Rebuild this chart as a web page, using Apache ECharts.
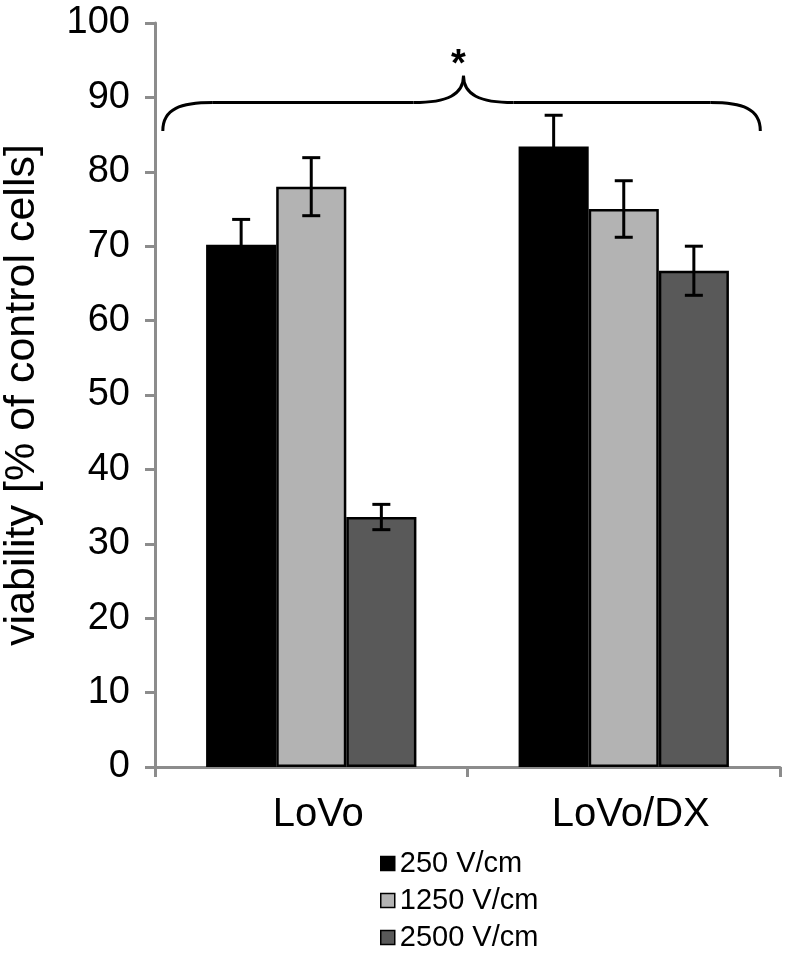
<!DOCTYPE html>
<html>
<head>
<meta charset="utf-8">
<script src="https://cdn.jsdelivr.net/npm/echarts@6/dist/echarts.min.js"></script>
<style>html,body{margin:0;padding:0;background:#fff;}#c{width:786px;height:956px;}</style>
</head>
<body>
<div id="c"></div>
<script>
const categories = ['LoVo', 'LoVo/DX'];
const seriesNames = ['250 V/cm', '1250 V/cm', '2500 V/cm'];
const values250 = [70.2, 83.4];
const values1250 = [78.0, 75.0];
const values2500 = [33.6, 66.7];
const err250 = [3.4, 4.2];
const err1250 = [3.9, 3.8];
const err2500 = [1.7, 3.3];
const yTicks = [0, 10, 20, 30, 40, 50, 60, 70, 80, 90, 100];
const braceLevels = { end: 85.5, mid: 89.3, tip: 92.9 };
const significance = '*';

const colors = ['#000000', '#b3b3b3', '#595959'];
const valuesAll = [values250, values1250, values2500];
const errAll = [err250, err1250, err2500];
const FONT = '"Liberation Sans", Arial, Helvetica, sans-serif';
const GAP = 0.327;

const chart = echarts.init(document.getElementById('c'), null, { renderer: 'canvas' });

const barSeries = seriesNames.map((n, i) => ({
  name: n,
  type: 'bar',
  data: valuesAll[i],
  barGap: '0%',
  barCategoryGap: (GAP * 100) + '%',
  itemStyle: { color: colors[i], borderColor: '#000', borderWidth: 2.5 },
  emphasis: { disabled: true },
  z: 2
}));

const errSeries = seriesNames.map((n, i) => ({
  type: 'custom',
  name: n + ' err',
  data: valuesAll[i].map((v, j) => [j, v - errAll[i][j], v + errAll[i][j]]),
  z: 5,
  silent: true,
  renderItem: function (params, api) {
    const x = api.value(0);
    const lo = api.coord([x, api.value(1)]);
    const hi = api.coord([x, api.value(2)]);
    const band = api.size([1, 0])[0];
    const bw = band * (1 - GAP) / 3;
    const cx = lo[0] + (i - 1) * bw;
    const half = 9;
    const style = { stroke: '#000', lineWidth: 3 };
    return {
      type: 'group',
      children: [
        { type: 'line', shape: { x1: cx, y1: lo[1], x2: cx, y2: hi[1] }, style },
        { type: 'line', shape: { x1: cx - half, y1: hi[1], x2: cx + half, y2: hi[1] }, style },
        { type: 'line', shape: { x1: cx - half, y1: lo[1], x2: cx + half, y2: lo[1] }, style }
      ]
    };
  }
}));

chart.setOption({
  animation: false,
  backgroundColor: '#fff',
  grid: { left: 155, right: 6, top: 23, bottom: 189, containLabel: false, outerBoundsMode: 'none' },
  legend: {
    data: seriesNames,
    orient: 'vertical',
    left: 380,
    top: 849,
    padding: 0,
    icon: 'rect',
    itemWidth: 14,
    itemHeight: 14,
    itemGap: 8,
    selectedMode: false,
    itemStyle: { borderColor: '#000', borderWidth: 1.5 },
    textStyle: { fontFamily: FONT, fontSize: 29, color: '#000', lineHeight: 29 }
  },
  xAxis: {
    type: 'category',
    data: categories,
    axisLine: { lineStyle: { color: '#8c8c8c', width: 3 } },
    axisTick: { show: true, alignWithLabel: false, length: 10, lineStyle: { color: '#8c8c8c', width: 3 } },
    axisLabel: { fontFamily: FONT, fontSize: 40, color: '#000', margin: 28, padding: [0, 0, 0, 14] },
    splitLine: { show: false }
  },
  yAxis: {
    type: 'value',
    min: yTicks[0],
    max: yTicks[yTicks.length - 1],
    interval: yTicks[1] - yTicks[0],
    name: 'viability [% of control cells]',
    nameLocation: 'middle',
    nameGap: 111,
    nameRotate: 90,
    nameMoveOverlap: false,
    nameTextStyle: { fontFamily: FONT, fontSize: 43, color: '#000' },
    axisLine: { show: true, lineStyle: { color: '#8c8c8c', width: 3 } },
    axisTick: { show: true, length: 10, lineStyle: { color: '#8c8c8c', width: 3 } },
    axisLabel: { fontFamily: FONT, fontSize: 38, color: '#000', margin: 25 },
    splitLine: { show: false }
  },
  series: barSeries.concat(errSeries)
});

function drawBrace() {
  const c0 = chart.convertToPixel({ xAxisIndex: 0 }, 0);
  const c1 = chart.convertToPixel({ xAxisIndex: 0 }, 1);
  const yEnd = chart.convertToPixel({ yAxisIndex: 0 }, braceLevels.end);
  const yMid = chart.convertToPixel({ yAxisIndex: 0 }, braceLevels.mid);
  const yTip = chart.convertToPixel({ yAxisIndex: 0 }, braceLevels.tip);
  const band = c1 - c0;
  const L = c0 - band * 0.475;
  const R = c1 + band * 0.437;
  const T = (c0 + c1) / 2 - 4;
  const r = 50;
  const st = { fill: null, stroke: '#000', lineWidth: 3 };
  const els = [
    { type: 'bezierCurve', shape: { x1: L, y1: yEnd, cpx1: L, cpy1: yMid + 6, cpx2: L + 18, cpy2: yMid, x2: L + r, y2: yMid } },
    { type: 'line', shape: { x1: L + r, y1: yMid, x2: T - r, y2: yMid } },
    { type: 'bezierCurve', shape: { x1: T - r, y1: yMid, cpx1: T - 16, cpy1: yMid, cpx2: T, cpy2: yMid - 8, x2: T, y2: yTip } },
    { type: 'bezierCurve', shape: { x1: T, y1: yTip, cpx1: T, cpy1: yMid - 8, cpx2: T + 16, cpy2: yMid, x2: T + r, y2: yMid } },
    { type: 'line', shape: { x1: T + r, y1: yMid, x2: R - r, y2: yMid } },
    { type: 'bezierCurve', shape: { x1: R - r, y1: yMid, cpx1: R - 18, cpy1: yMid, cpx2: R, cpy2: yMid + 6, x2: R, y2: yEnd } }
  ].map(e => Object.assign(e, { style: st, z: 10, silent: true }));
  els.push({ type: 'text', x: T - 5, y: yTip - 10, silent: true, z: 10,
    style: { text: significance, font: 'bold 38px ' + FONT, fill: '#000', textAlign: 'center', textVerticalAlign: 'middle' } });
  chart.setOption({ graphic: els });
}
drawBrace();
</script>
</body>
</html>
